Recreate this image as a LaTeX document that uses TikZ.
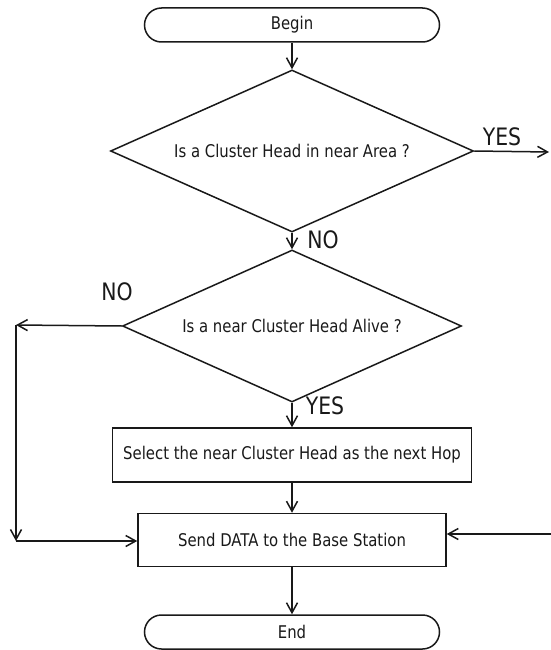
\documentclass[tikz,border=0pt]{standalone}
\usepackage{fontspec}
\setmainfont{DejaVu Sans}[FakeStretch=0.85]
\usepackage{tikz}
\usetikzlibrary{positioning}
\usetikzlibrary{arrows.meta}
\usetikzlibrary{shapes.geometric}
\tikzset{
  termNode/.style={%
    draw, rounded corners=17pt, minimum width=295pt, minimum height=34pt,
    line width=1.5pt, font=\fontsize{17.5}{19}\selectfont,
  },
  boxNode/.style={%
    draw, rectangle, minimum height=54pt, inner sep=0pt,
    line width=1.5pt, font=\fontsize{17.5}{19}\selectfont,
  },
  askNode/.style={%
    draw, diamond, inner sep=0pt, shape aspect=2.24,
    line width=1.5pt, font=\fontsize{17.5}{19}\selectfont,
  },
  ansLabel/.style={%
    font=\fontsize{24}{26}\selectfont, inner sep=0pt,
  },
  flowLine/.style={%
    line width=1.5pt, -{Straight Barb[length=10pt,width=11pt]},
  }
}
\begin{document}
\begin{tikzpicture}[x=1pt,y=-1pt,color={black!90}]
                \useasboundingbox (0,0) rectangle (551,650);
                \node[termNode]
                  (begin) at (292,25) {Begin};
                \node[askNode, minimum width=363pt, minimum height=162pt]
                  (ask1) at (292,151) {Is a Cluster Head in near Area ?};
                \node[askNode, minimum width=339pt, minimum height=152pt]
                  (ask2) at (292,326) {Is a near Cluster Head Alive ?};
                \node[boxNode, minimum width=359pt]
                  (select) at (292,455) {Select the near Cluster Head as the next Hop};
                \node[boxNode, minimum width=308pt, minimum height=53pt]
                  (send) at (292,540) {Send DATA to the Base Station};
                \node[termNode]
                  (end) at (292,632) {End};
                % free ends of the side connectors
                \coordinate (yesOut) at (549,152);
                \coordinate (noOut) at (16,325);
                \coordinate (noDown) at (16,541);
                \coordinate (sideIn) at (551,534);
                % answers
                \node[ansLabel] (yes1) at (502,137) {YES};
                \node[ansLabel] (no1) at (323,240) {NO};
                \node[ansLabel] (no2) at (117,292) {NO};
                \node[ansLabel] (yes2) at (325,406) {YES};
                \draw[flowLine]
                  (begin) -- (ask1);
                \draw[flowLine]
                  (ask1.east) -- (yesOut);
                \draw[flowLine]
                  (ask1) -- (ask2);
                \draw[flowLine]
                  (ask2.west) -- (noOut);
                \draw[flowLine]
                  (noOut) -- (noDown);
                \draw[flowLine]
                  (noDown) -- (send.west |- noDown);
                \draw[flowLine]
                  (ask2) -- (select);
                \draw[flowLine]
                  (select) -- (send);
                \draw[flowLine]
                  (sideIn) -- (send.east |- sideIn);
                \draw[flowLine]
                  (send) -- (end);
              \end{tikzpicture}
\end{document}
